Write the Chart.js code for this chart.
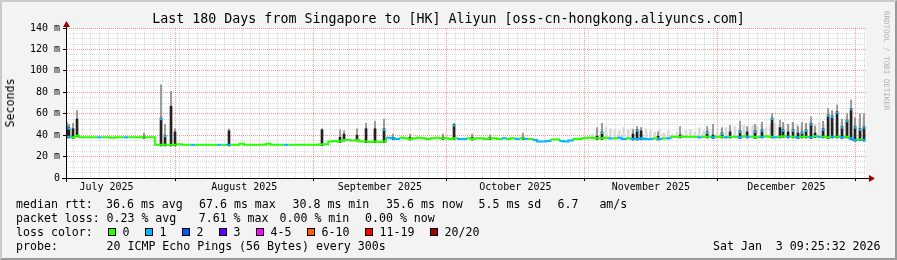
<!DOCTYPE html>
<html>
<head>
<meta charset="utf-8">
<title>SmokePing - Singapore to Aliyun HK</title>
<script src="https://cdn.jsdelivr.net/npm/chart.js@4.4.1/dist/chart.umd.min.js"></script>
<style>
  html, body { margin: 0; padding: 0; background: #f3f3f3; }
  #wrap { position: relative; width: 897px; height: 260px; overflow: hidden; font-family: 'DejaVu Sans Mono', monospace; color: #000; }
  #wrap canvas { position: absolute; left: 0; top: 0; }
  .frame { position: absolute; left: 0; top: 0; width: 897px; height: 260px; box-sizing: border-box;
           border-top: 2px solid #cbcbcb; border-left: 2px solid #cbcbcb; border-right: 2px solid #999; border-bottom: 2px solid #999; pointer-events: none; }
  .t { position: absolute; white-space: pre; font-size: 11.6px; line-height: 14px; }
  #title { position: absolute; left: 0; top: 11px; width: 897px; text-align: center; white-space: pre; font-size: 13.3px; line-height: 16px; }
  #ylab { position: absolute; left: 10px; top: 103px; transform: translate(-50%, -50%) rotate(-90deg); white-space: pre; font-size: 11.6px; line-height: 14px; }
  #wm { position: absolute; left: 882px; top: 11px; writing-mode: vertical-rl; white-space: pre; font-size: 7.5px; line-height: 9px; color: #b0b0b0; }
  .sw { position: absolute; top: 228px; width: 6px; height: 6px; border: 1px solid #000; }
</style>
</head>
<body>
<div id="wrap">
  <canvas id="smoke" width="897" height="260"></canvas>
  <div id="title">Last 180 Days from Singapore to [HK] Aliyun [oss-cn-hongkong.aliyuncs.com]</div>
  <div id="ylab">Seconds</div>
  <div id="wm">RRDTOOL / TOBI OETIKER</div>

  <div class="t" style="left:16px;top:197px">median rtt:</div>
  <div class="t" style="left:106px;top:197px">36.6 ms avg</div>
  <div class="t" style="left:199px;top:197px">67.6 ms max</div>
  <div class="t" style="left:292.5px;top:197px">30.8 ms min</div>
  <div class="t" style="left:386px;top:197px">35.6 ms now</div>
  <div class="t" style="left:478.5px;top:197px">5.5 ms sd</div>
  <div class="t" style="left:557.5px;top:197px">6.7   am/s</div>

  <div class="t" style="left:16px;top:211px">packet loss:</div>
  <div class="t" style="left:106.5px;top:211px">0.23 % avg</div>
  <div class="t" style="left:198.7px;top:211px">7.61 % max</div>
  <div class="t" style="left:279.5px;top:211px">0.00 % min</div>
  <div class="t" style="left:365px;top:211px">0.00 % now</div>

  <div class="t" style="left:16px;top:225px">loss color:</div>
  <div class="sw" style="left:108px;background:#26ff00"></div><div class="t" style="left:122.5px;top:225px">0</div>
  <div class="sw" style="left:145px;background:#00b8ff"></div><div class="t" style="left:159.5px;top:225px">1</div>
  <div class="sw" style="left:182px;background:#0059ff"></div><div class="t" style="left:196.5px;top:225px">2</div>
  <div class="sw" style="left:219px;background:#5e00ff"></div><div class="t" style="left:233.5px;top:225px">3</div>
  <div class="sw" style="left:256px;background:#ff00ff"></div><div class="t" style="left:270.5px;top:225px">4-5</div>
  <div class="sw" style="left:307px;background:#ff5e00"></div><div class="t" style="left:321.5px;top:225px">6-10</div>
  <div class="sw" style="left:365px;background:#ff0000"></div><div class="t" style="left:379.5px;top:225px">11-19</div>
  <div class="sw" style="left:430px;background:#a10000"></div><div class="t" style="left:444.5px;top:225px">20/20</div>

  <div class="t" style="left:16px;top:238.7px">probe:</div>
  <div class="t" style="left:106.5px;top:238.7px">20 ICMP Echo Pings (56 Bytes) every 300s</div>
  <div class="t" style="left:713px;top:238.7px">Sat Jan  3 09:25:32 2026</div>

  <div class="frame"></div>
</div>
<script>
// time axis: days since 2025-07-01 00:00
const START = 6.392;   // Jul 7 09:25
const END = 186.392;   // Jan 3 09:25

const monthStarts = [31, 62, 92, 123, 153, 184];
const monthMids = [15.5, 46.5, 77, 107.5, 138, 168.5];
const monthLabels = ['July 2025', 'August 2025', 'September 2025', 'October 2025', 'November 2025', 'December 2025'];
const yTicks = [0, 20, 40, 60, 80, 100, 120, 140];

// median rtt (ms), one value per day from START
const medianMs = [
  38.5, 38, 39.5, 38, 38, 38, 38, 38, 38, 38,
  37.5, 38, 38, 38, 38, 38, 38, 38, 38, 38,
  31, 31, 31, 31, 31, 31.5, 31, 31, 31, 31,
  31, 31, 31, 31, 31, 31, 31, 31, 31, 32,
  31, 31, 31, 31, 31, 32, 31, 31, 31, 31,
  31, 31, 31, 31, 31, 31, 31, 31.5, 31.5, 34,
  34.5, 34, 35.5, 35.5, 35, 35.5, 34, 34, 33.5, 34,
  33.5, 34, 37.5, 37, 36.5, 37.5, 37, 36.5, 37, 37.5,
  37, 36.5, 37, 37.5, 37, 37, 36.5, 37, 36.5, 36.5,
  37, 36.5, 37, 37, 36.5, 37, 37, 36.5, 37, 36.5,
  37, 36.5, 37, 36.5, 36.5, 35.5, 34, 34, 34.5, 36,
  36, 34.5, 34, 35, 36.5, 36.5, 37, 37.5, 37.5, 37,
  37, 37.5, 37, 37, 37.5, 36.5, 37, 36.5, 36.5, 37,
  36.5, 36.5, 37, 36.5, 37, 37, 38.5, 38.5, 38.5, 38.5,
  38.5, 38.5, 38, 38.5, 38.5, 38, 38.5, 38.5, 38, 38.5,
  38.5, 38, 39, 38.5, 38.5, 38, 38.5, 39, 38.5, 38,
  38.5, 39, 38.5, 38.5, 38, 38.5, 38.5, 38, 39, 38.5,
  38.5, 38, 38.5, 38.5, 38, 38.5, 37, 35.5, 36, 35.5
];
// days (index into medianMs) where 1 of 20 pings was lost
const lossOneDays = [0, 7, 13, 28, 34, 36, 49, 72, 73, 74, 88, 89, 98, 101, 103, 105, 106, 107, 108,
  111, 112, 113, 122, 124, 125, 127, 128, 129, 130, 131, 133, 135, 142, 145, 148, 151, 153, 156,
  159, 162, 164, 167, 169, 172, 174, 176, 177, 179];

// light smoke top (ms) from Nov onwards, first entry is day index 117
const smokeFirst = 117;
const smokeHi = [
  39, 41, 45, 44, 47, 46, 45, 44, 47, 45,
  46, 44, 47, 46, 44, 43, 45, 42, 44, 41,
  43, 42, 44, 45, 43, 47, 44, 46, 45, 43,
  44, 47, 45, 48, 46, 49, 47, 49, 48, 50,
  47, 49, 51, 48, 50, 49, 52, 50, 48, 51,
  53, 50, 52, 49, 53, 51, 54, 52, 56, 55,
  58, 55, 57
];

// spikes: position (days since Jul 1), dark top, grey smoke top, median marker with loss
const spikeDay = [6.62, 7.07, 7.97, 8.87, 23.94, 27.77, 28.67, 30.02, 30.92, 43.07,
  63.99, 68.05, 68.95, 71.87, 73.90, 75.92, 77.95, 79.97, 83.80, 91.22,
  93.70, 97.75, 101.8, 109.23, 125.88, 127.0, 133.98, 134.88, 135.78, 139.6,
  144.55, 150.63, 151.98, 154.0, 155.8, 158.06, 159.63, 161.43, 163.0, 165.26,
  167.06, 167.73, 168.86, 169.98, 171.1, 172.0, 172.9, 174.03, 174.93, 176.73,
  177.86, 178.76, 179.88, 181.0, 182.13, 183.03, 183.93, 185.05, 185.95];
const spikeTop = [48, 47, 46, 55, 39, 56, 40, 67, 43, 44,
  45, 38, 41, 40, 46, 46, 46, 38, 38, 38,
  50, 38, 38, 38, 39, 43, 41, 45, 44, 39,
  40, 43, 40, 42, 43, 44, 43, 44, 45, 56,
  47, 45, 43, 45, 42, 43, 45, 51, 42, 46,
  59, 58, 62, 48, 54, 65, 48, 46, 48];
const spikeSmoke = [52, 50, 51, 63, 42, 87, 50, 81, 46, 46,
  46, 45, 44, 46, 51, 53, 55, 41, 41, 41,
  51, 41, 40, 42, 47, 51, 45, 48, 47, 43,
  48, 48, 50, 47, 49, 53, 48, 50, 52, 60,
  54, 52, 50, 52, 48, 52, 51, 57, 48, 53,
  65, 63, 68, 55, 60, 73, 56, 60, 60];
const spikeTip = [1, 1, 0, 0, 0, 1, 1, 0, 0, 0,
  0, 0, 0, 0, 0, 0, 1, 0, 0, 0,
  1, 0, 0, 0, 0, 1, 0, 1, 0, 0,
  0, 1, 0, 1, 0, 1, 0, 1, 1, 1,
  0, 1, 0, 1, 0, 1, 1, 1, 0, 1,
  1, 1, 1, 1, 1, 1, 1, 1, 1];

const lossColors = ['#26ff00', '#00b8ff'];
const medianLoss = medianMs.map((v, i) => lossOneDays.includes(i) ? 1 : 0);

const medianPoints = medianMs.map((v, i) => ({ x: START + i, y: v }));
medianPoints.push({ x: END, y: medianMs[medianMs.length - 1] });

const baseAt = d => medianMs[Math.min(medianMs.length - 1, Math.floor(d - START))] - 1;

const smokeBars = smokeHi.map((v, k) => {
  const i = smokeFirst + k;
  return { x: START + i + 0.5, y: [medianMs[i] - 1.5, v] };
});
const spikeGrey = spikeDay.map((d, k) => ({ x: d, y: [baseAt(d), spikeSmoke[k]] }));
const spikeDark = spikeDay.map((d, k) => ({ x: d, y: [baseAt(d), spikeTop[k]] }));
const spikeTips = spikeDay.map((d, k) => ({ x: d, y: spikeTop[k] - 1 })).filter((p, k) => spikeTip[k] === 1);

const MONO = 'DejaVu Sans Mono';
const majorGrid = 'rgba(255, 0, 0, 0.42)';
const minorGrid = 'rgba(140, 140, 140, 0.32)';

const backdrop = {
  id: 'backdrop',
  beforeDraw(chart) {
    const { ctx, chartArea: a } = chart;
    ctx.save();
    ctx.fillStyle = '#f3f3f3';
    ctx.fillRect(0, 0, chart.width, chart.height);
    ctx.fillStyle = '#ffffff';
    ctx.fillRect(a.left, a.top, a.right - a.left, a.bottom - a.top);
    ctx.restore();
  }
};

const axisArrows = {
  id: 'axisArrows',
  afterDraw(chart) {
    const { ctx, chartArea: a } = chart;
    const x0 = a.left + 0.5, y0 = a.bottom + 0.5;
    ctx.save();
    ctx.strokeStyle = '#000';
    ctx.lineWidth = 1;
    ctx.beginPath();
    ctx.moveTo(a.left - 4, y0); ctx.lineTo(a.right + 3, y0);
    ctx.moveTo(x0, a.bottom + 4); ctx.lineTo(x0, a.top - 2);
    ctx.stroke();
    ctx.fillStyle = '#a00000';
    ctx.beginPath();
    ctx.moveTo(x0, a.top - 7); ctx.lineTo(x0 - 3.5, a.top - 1); ctx.lineTo(x0 + 3.5, a.top - 1);
    ctx.closePath(); ctx.fill();
    ctx.beginPath();
    ctx.moveTo(a.right + 9, y0); ctx.lineTo(a.right + 3, y0 - 3.5); ctx.lineTo(a.right + 3, y0 + 3.5);
    ctx.closePath(); ctx.fill();
    ctx.restore();
  }
};

Chart.defaults.font.family = MONO;

new Chart(document.getElementById('smoke'), {
  type: 'line',
  data: {
    datasets: [
      {
        type: 'scatter', data: spikeTips, order: 0, showLine: false,
        pointStyle: 'rect', pointRadius: 1.5, pointBorderWidth: 0,
        pointBackgroundColor: '#00b8ff'
      },
      {
        type: 'line', data: medianPoints, order: 1, stepped: true,
        borderWidth: 2, pointRadius: 0, borderCapStyle: 'butt',
        segment: { borderColor: c => lossColors[medianLoss[c.p0DataIndex]] },
        borderColor: lossColors[0]
      },
      {
        type: 'bar', data: spikeDark, order: 2, grouped: false,
        barThickness: 2, backgroundColor: '#222222', borderWidth: 0
      },
      {
        type: 'bar', data: spikeGrey, order: 3, grouped: false,
        barThickness: 1, backgroundColor: '#8a8a8a', borderWidth: 0
      },
      {
        type: 'bar', data: smokeBars, order: 4, grouped: false,
        barThickness: 2, backgroundColor: '#d8d8d8', borderWidth: 0
      }
    ]
  },
  options: {
    responsive: false,
    animation: false,
    devicePixelRatio: 1,
    layout: { autoPadding: false, padding: { left: 0, right: 31, top: 28, bottom: 62 } },
    plugins: { legend: { display: false }, tooltip: { enabled: false }, title: { display: false } },
    scales: {
      x: {
        type: 'linear', position: 'bottom', min: START, max: END, weight: 0, offset: false,
        afterBuildTicks: s => { s.ticks = monthStarts.map(v => ({ value: v })); },
        afterFit: s => { s.height = 0; },
        ticks: { display: false, autoSkip: false },
        grid: { color: majorGrid, offset: false, drawTicks: true, tickLength: 3, tickColor: '#000', tickBorderDash: [] },
        border: { display: true, color: '#000', width: 1, dash: [1, 1] }
      },
      xMinor: {
        type: 'linear', position: 'bottom', min: START, max: END, weight: 1, offset: false,
        afterBuildTicks: s => {
          const t = [];
          for (let d = 8; d < END; d += 2) if (!monthStarts.includes(d)) t.push({ value: d });
          s.ticks = t;
        },
        afterFit: s => { s.height = 0; },
        ticks: { display: false, autoSkip: false },
        grid: { color: minorGrid, offset: false, drawTicks: false },
        border: { display: false, dash: [1, 1] }
      },
      xLab: {
        type: 'linear', position: 'bottom', min: START, max: END, weight: 2, offset: false,
        afterBuildTicks: s => { s.ticks = monthMids.map(v => ({ value: v })); },
        afterFit: s => { s.height = 20; },
        ticks: {
          autoSkip: false, maxRotation: 0, padding: 3, color: '#000',
          font: { family: MONO, size: 10 },
          callback: (v, i) => monthLabels[i]
        },
        grid: { display: false, drawTicks: false },
        border: { display: false }
      },
      y: {
        type: 'linear', position: 'left', min: 0, max: 140, weight: 1,
        afterBuildTicks: s => { s.ticks = yTicks.map(v => ({ value: v })); },
        afterFit: s => { s.width = 66; },
        ticks: {
          padding: 3, color: '#000', font: { family: MONO, size: 10 },
          callback: v => (v === 0 ? '0' : v + ' m')
        },
        grid: {
          color: c => (c.tick && c.tick.value === 0 ? 'rgba(0,0,0,0)' : majorGrid),
          drawTicks: true, tickLength: 3, tickColor: '#000', tickBorderDash: []
        },
        border: { display: true, color: '#000', width: 1, dash: [1, 1] }
      },
      yMinor: {
        type: 'linear', position: 'left', min: 0, max: 140, weight: 0,
        afterBuildTicks: s => {
          const t = [];
          for (let v = 5; v < 140; v += 5) if (v % 20 !== 0) t.push({ value: v });
          s.ticks = t;
        },
        afterFit: s => { s.width = 0; },
        ticks: { display: false },
        grid: { color: minorGrid, drawTicks: false },
        border: { display: false, dash: [1, 1] }
      }
    }
  },
  plugins: [backdrop, axisArrows]
});
</script>
</body>
</html>
